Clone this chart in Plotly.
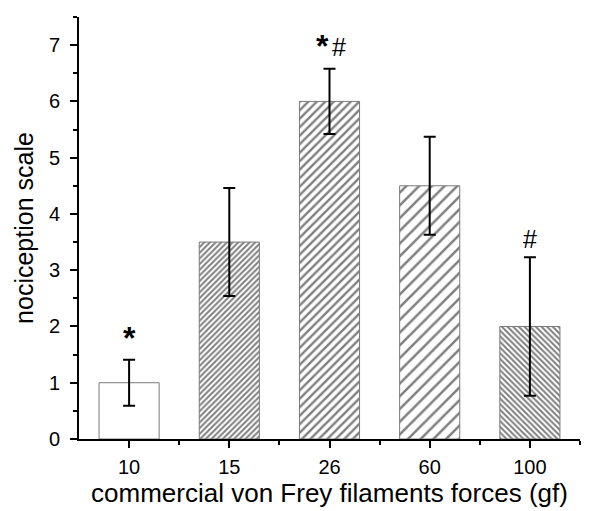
import plotly.graph_objects as go

categories = ["10", "15", "26", "60", "100"]
means = [1.0, 3.5, 6.0, 4.5, 2.0]
errors = [0.41, 0.96, 0.58, 0.87, 1.23]
pattern_shapes = ["", "/", "/", "/", "\\"]
pattern_sizes = [6, 4, 6, 9, 4]
pattern_solidity = [0.3, 0.5, 0.4, 0.28, 0.5]
stars = ["*", "", "*", "", ""]
hashes = ["", "", "#", "", "#"]

xpos = list(range(len(categories)))
FONT = "Liberation Sans, Arial, sans-serif"

fig = go.Figure()
fig.add_trace(go.Bar(
    x=xpos, y=means, width=0.6,
    marker=dict(color="white", line=dict(color="#7a7a7a", width=1),
                pattern=dict(shape=pattern_shapes, size=pattern_sizes, solidity=pattern_solidity,
                             fgcolor="black", bgcolor="white")),
    error_y=dict(type="data", array=errors, color="black", thickness=2, width=6),
    showlegend=False,
))

for i, (m, e, s, h) in enumerate(zip(means, errors, stars, hashes)):
    both = bool(s) and bool(h)
    if s:
        fig.add_annotation(x=i, y=m + e, text="<b>*</b>", showarrow=False, yanchor="bottom",
                           yshift=3 if both else 2, xshift=-7 if both else 0,
                           font=dict(family=FONT, size=32, color="black"))
    if h:
        fig.add_annotation(x=i, y=m + e, text="#", showarrow=False, yanchor="bottom",
                           yshift=6 if both else 2, xshift=9 if both else 0,
                           font=dict(family=FONT, size=25, color="black"))

fig.update_layout(
    width=601, height=511,
    margin=dict(l=71, r=29, t=9, b=80),
    plot_bgcolor="white", paper_bgcolor="white",
    font=dict(family=FONT, color="black"),
)
fig.update_xaxes(
    range=[-0.5, 4.5], tickvals=xpos, ticktext=categories,
    showline=True, linecolor="black", linewidth=2, showgrid=False, zeroline=False,
    ticks="outside", ticklen=7, tickwidth=2, tickcolor="black",
    minor=dict(tickvals=[i + 0.5 for i in xpos], ticks="outside", ticklen=4, tickwidth=2, tickcolor="black"),
    tickfont=dict(size=20), ticklabelstandoff=2,
    title=dict(text="commercial von Frey filaments forces (gf)", font=dict(size=26), standoff=6),
)
fig.update_yaxes(
    range=[0, 7.5], dtick=1, tick0=0,
    showline=True, linecolor="black", linewidth=2, showgrid=False, zeroline=False,
    ticks="outside", ticklen=7, tickwidth=2, tickcolor="black",
    minor=dict(dtick=0.5, tick0=0, ticks="outside", ticklen=4, tickwidth=2, tickcolor="black"),
    tickfont=dict(size=20), ticklabelstandoff=6,
    title=dict(text="nociception scale", font=dict(size=25), standoff=8),
)

fig.write_html("out.html")
